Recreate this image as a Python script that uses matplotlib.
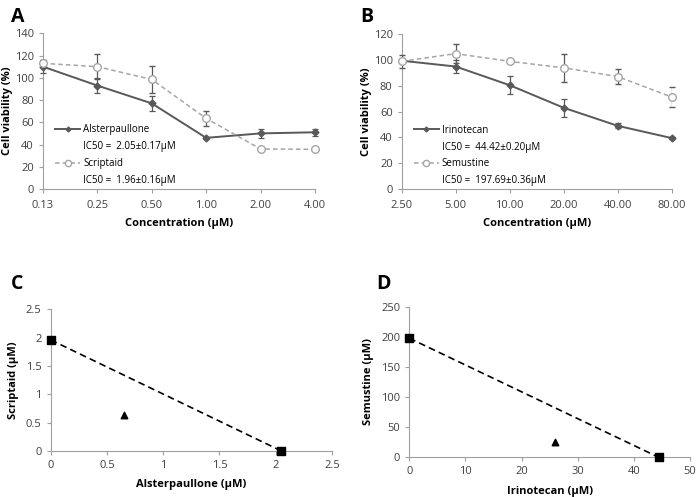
import numpy as np
import matplotlib.pyplot as plt
from matplotlib.lines import Line2D

plt.rcParams['font.family'] = ['Open Sans', 'DejaVu Sans']

# -------------------------------
# Data
# -------------------------------
conc_a = ["0.13", "0.25", "0.50", "1.00", "2.00", "4.00"]
alster = [110, 93, 77, 46, 50, 51]
alster_err = [6, 7, 7, 1, 4, 3]
scrip = [113, 110, 98.5, 63.5, 36, 35.7]
scrip_err = [3, 11, 12.5, 7, 0, 0]

conc_b = ["2.50", "5.00", "10.00", "20.00", "40.00", "80.00"]
irino = [99.5, 95, 80.5, 63, 49, 39.5]
irino_err = [1, 5, 7, 7, 2, 1]
semus = [99, 105, 99, 94, 87.2, 71.3]
semus_err = [5, 7.5, 1, 11, 6, 8]

# isobolograms
iso_c_x = [0, 2.05]
iso_c_y = [1.96, 0]
comb_c = (0.65, 0.64)

iso_d_x = [0, 44.42]
iso_d_y = [197.69, 0]
comb_d = (26, 25)

dark = "#595959"
light = "#a6a6a6"
axis_col = "#a0a0a0"
tick_fs = 8
lab_fs = 8

fig = plt.figure(figsize=(6.99, 4.97), dpi=100)
fig.patch.set_facecolor("white")


def style_axes(ax):
    for s in ["top", "right"]:
        ax.spines[s].set_visible(False)
    for s in ["left", "bottom"]:
        ax.spines[s].set_color(axis_col)
        ax.spines[s].set_linewidth(0.8)
    ax.tick_params(colors=axis_col, labelcolor="#404040", labelsize=tick_fs,
                   length=3, width=0.8)


def curve_panel(ax, cats, y1, e1, y2, e2, ymax, name1, name2, ic1, ic2):
    x = np.arange(len(cats))
    ax.errorbar(x, y1, yerr=e1, color=dark, lw=1.4, marker="D", ms=3.5,
                ecolor=dark, elinewidth=0.9, capsize=2.5, capthick=0.9, zorder=3)
    ax.errorbar(x, y2, yerr=e2, color=light, lw=1.1, ls=(0, (3, 2)), marker="o",
                ms=5.5, mfc="white", mec=light, mew=1, ecolor=dark,
                elinewidth=0.9, capsize=2.5, capthick=0.9, zorder=3)
    ax.set_xlim(0, len(cats) - 1)
    ax.set_ylim(0, ymax)
    ax.set_yticks(np.arange(0, ymax + 1, 20))
    ax.set_xticks(x)
    ax.set_xticklabels(cats)
    ax.set_ylabel("Cell viability (%)", fontsize=lab_fs, fontweight="bold",
                  labelpad=1)
    ax.set_xlabel("Concentration (\u03bcM)", fontsize=lab_fs, fontweight="bold",
                  labelpad=5)
    ax.tick_params(axis="x", pad=5)
    style_axes(ax)
    for ln in ax.lines:
        ln.set_clip_on(False)
    blank = Line2D([], [], color="none")
    h1 = Line2D([], [], color=dark, lw=1.4, marker="D", ms=2.5)
    h2 = Line2D([], [], color=light, lw=1.1, ls=(0, (3, 2)), marker="o", ms=4.5,
                mfc="white", mec=light)
    ax.legend([h1, blank, h2, blank], [name1, ic1, name2, ic2],
              loc="upper left", bbox_to_anchor=(0.03, 0.44), frameon=False,
              fontsize=7, handlelength=2.6, labelspacing=0.6,
              handletextpad=0.3, borderaxespad=0)


ax_a = fig.add_axes([0.0615, 0.6197, 0.389, 0.3133])
curve_panel(ax_a, conc_a, alster, alster_err, scrip, scrip_err, 140,
            "Alsterpaullone", "Scriptaid",
            "IC50 =  2.05\u00b10.17\u03bcM", "IC50 =  1.96\u00b10.16\u03bcM")

ax_b = fig.add_axes([0.5747, 0.6197, 0.3863, 0.3113])
curve_panel(ax_b, conc_b, irino, irino_err, semus, semus_err, 120,
            "Irinotecan", "Semustine",
            "IC50 =  44.42\u00b10.20\u03bcM", "IC50 =  197.69\u00b10.36\u03bcM")


def iso_panel(ax, xs, ys, comb, xmax, xstep, ymax, ystep, xlab, ylab):
    ax.plot(xs, ys, color="black", lw=1.2, ls=(0, (4, 2.5)), zorder=2)
    ax.scatter(xs, ys, marker="s", s=30, color="black", zorder=3, clip_on=False)
    ax.scatter([comb[0]], [comb[1]], marker="^", s=22, color="black", zorder=3)
    ax.set_xlim(0, xmax)
    ax.set_ylim(0, ymax)
    ax.set_xticks(np.arange(0, xmax + xstep / 2, xstep))
    ax.set_yticks(np.arange(0, ymax + ystep / 2, ystep))
    ax.xaxis.set_major_formatter(plt.FuncFormatter(lambda v, p: "%g" % v))
    ax.yaxis.set_major_formatter(plt.FuncFormatter(lambda v, p: "%g" % v))
    ax.set_xlabel(xlab, fontsize=lab_fs, fontweight="bold", labelpad=6)
    ax.set_ylabel(ylab, fontsize=lab_fs, fontweight="bold", labelpad=5)
    style_axes(ax)


ax_c = fig.add_axes([0.0725, 0.0926, 0.4025, 0.2851])
iso_panel(ax_c, iso_c_x, iso_c_y, comb_c, 2.5, 0.5, 2.5, 0.5,
          "Alsterpaullone (\u03bcM)", "Scriptaid (\u03bcM)")

ax_d = fig.add_axes([0.5856, 0.0799, 0.4015, 0.303])
iso_panel(ax_d, iso_d_x, iso_d_y, comb_d, 50, 10, 250, 50,
          "Irinotecan (\u03bcM)", "Semustine (\u03bcM)")

# panel letters
for lbl, (x, y) in zip("ABCD", [(11, 17), (360, 17), (11, 284), (376, 284)]):
    fig.text(x / 699, 1 - y / 497, lbl, fontsize=14, fontweight="bold",
             va="center", ha="left")

plt.savefig("out.png", dpi=100)
plt.close()
